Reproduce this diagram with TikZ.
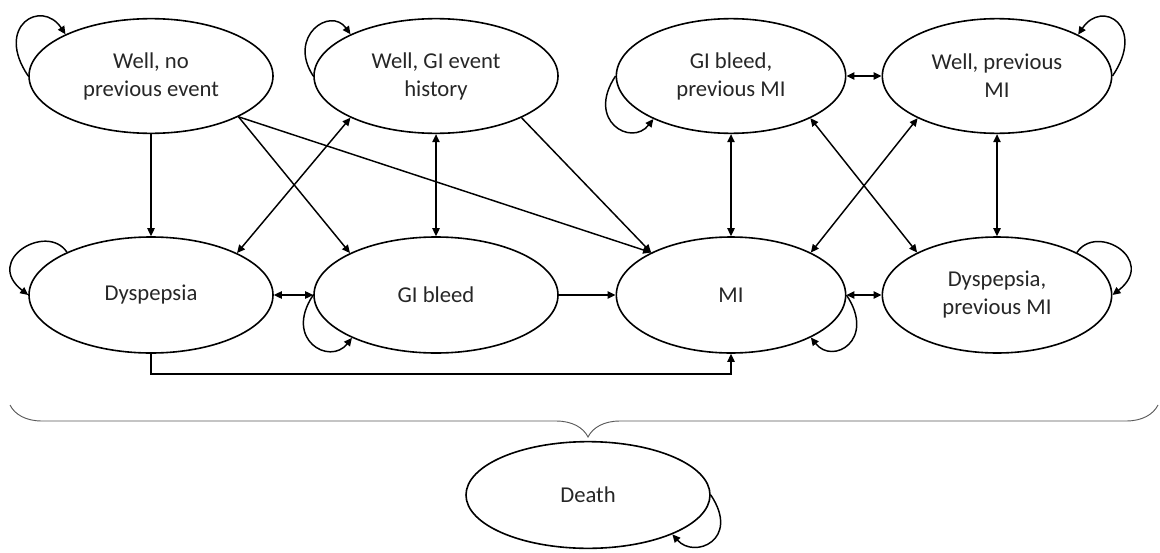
\documentclass[tikz,border=0pt]{standalone}
\usepackage{fontspec}
\setmainfont{Carlito}
\usetikzlibrary{shapes.geometric,arrows.meta,decorations.pathreplacing}

\begin{document}
\begin{tikzpicture}[x=0.75pt,y=-0.75pt,
  stbox/.style={ellipse,draw,line width=1.2pt,inner sep=0pt,align=center,
    font=\fontsize{17}{21}\selectfont,text=black!85},
  wide/.style={stbox,minimum width=183pt,minimum height=86pt},
  narrow/.style={stbox,minimum width=172pt,minimum height=86pt},
  tip/.tip={Triangle[length=6pt,width=5.5pt]},
  link/.style={line width=1.1pt,-tip},
  both/.style={line width=1.1pt,tip-tip},
  bracestyle/.style={decorate,decoration={brace,amplitude=24pt,aspect=0.4965},
    line width=0.7pt,draw=black!65}]

\useasboundingbox (0,0) rectangle (1160,553);

% states
\node[wide]   (wn)  at (151,76)  {Well, no\\previous event};
\node[wide]   (wg)  at (436,76)  {Well, GI event\\history};
\node[narrow] (gbp) at (731,76)  {GI bleed,\\previous MI};
\node[narrow] (wpm) at (997,76)  {Well, previous\\MI};
\node[wide,minimum height=87pt]   (dy)  at (151,295) {Dyspepsia};
\node[wide,minimum height=87pt]   (gb)  at (436,295) {GI bleed};
\node[narrow,minimum height=87pt] (mi)  at (731,295) {MI};
\node[narrow,minimum height=87pt] (dpm) at (997,295) {Dyspepsia,\\previous MI};
\node[wide,minimum height=80pt]   (death) at (588,495) {Death};

% transitions between states
\draw[link] (wn.south) -- (dy.north);
\draw[link] (wn.-25) -- (gb.154);
\draw[link] (wn.-25) -- (mi.152);
\draw[both] (wg.-154) -- (dy.26);
\draw[both] (wg.south) -- (gb.north);
\draw[link] (wg.-26) -- (mi.152);
\draw[both] (gbp.east) -- (wpm.west);
\draw[both] (gbp.south) -- (mi.north);
\draw[both] (gbp.-28) -- (dpm.152);
\draw[both] (wpm.-152) -- (mi.28);
\draw[both] (wpm.south) -- (dpm.north);
\draw[both] (dy.east) -- (gb.west);
\draw[link] (gb.east) -- (mi.west);
\draw[both] (mi.east) -- (dpm.west);
\draw[link] (dy.south) -- ++(0,20) -| (mi.south);

% staying in the same state
\draw[link] (wn.west) .. controls +(-34,-50) and +(-24,-36) .. (wn.154);
\draw[link] (wg.west) .. controls +(-26,-40) and +(-20,-28) .. (wg.154);
\draw[link] (gbp.west) .. controls +(-30,45) and +(-22,28) .. (gbp.-151);
\draw[link] (wpm.east) .. controls +(34,-50) and +(24,-36) .. (wpm.27);
\draw[link] (dy.153) .. controls +(-20,-30) and +(-45,-35) .. (dy.west);
\draw[link] (gb.west) .. controls +(-30,45) and +(-22,28) .. (gb.-153);
\draw[link] (mi.east) .. controls +(30,45) and +(22,28) .. (mi.-28);
\draw[link] (dpm.28) .. controls +(20,-30) and +(45,-35) .. (dpm.east);
\draw[link] (death.east) .. controls +(30,45) and +(22,25) .. (death.-25);

% every state can lead to death
\coordinate (bl) at (10,405);
\coordinate (br) at (1158,405);
\draw[bracestyle] (br) -- (bl);
\end{tikzpicture}
\end{document}
